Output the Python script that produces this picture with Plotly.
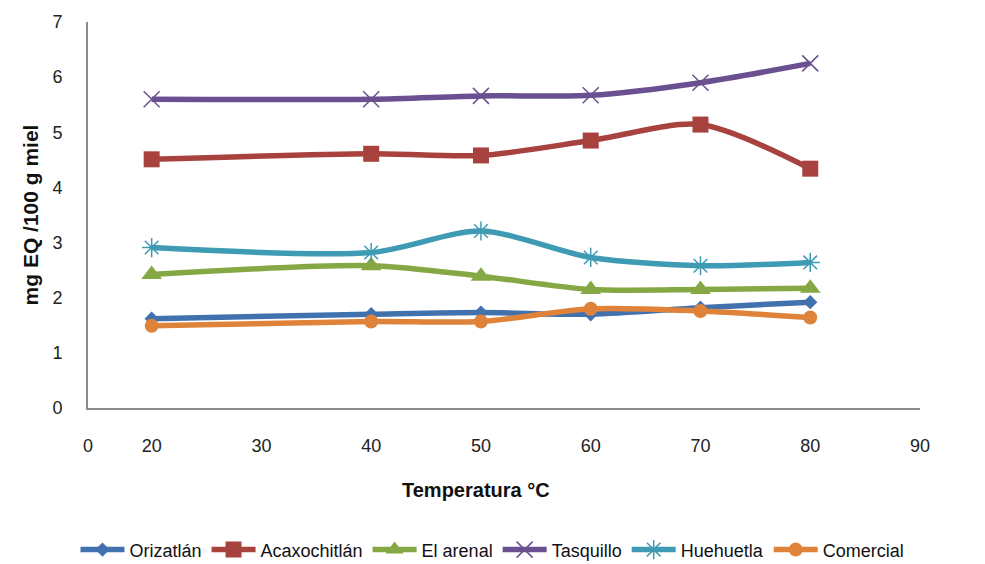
import plotly.graph_objects as go

temps = [20, 40, 50, 60, 70, 80]
orizatlan = [1.62, 1.70, 1.73, 1.70, 1.82, 1.92]
acaxochitlan = [4.51, 4.61, 4.58, 4.85, 5.14, 4.34]
el_arenal = [2.42, 2.58, 2.39, 2.15, 2.15, 2.17]
tasquillo = [5.60, 5.60, 5.66, 5.67, 5.90, 6.25]
huehuetla = [2.91, 2.82, 3.21, 2.73, 2.58, 2.64]
comercial = [1.49, 1.57, 1.57, 1.80, 1.76, 1.64]

x_ticks = [14.2, 20, 30, 40, 50, 60, 70, 80, 90]
x_ticktext = ["0", "20", "30", "40", "50", "60", "70", "80", "90"]
y_ticks = [0, 1, 2, 3, 4, 5, 6, 7]

series = [
    ("Orizatlán", orizatlan, "#4272AE", "diamond", 11, 0),
    ("Acaxochitlán", acaxochitlan, "#A8423F", "square", 16, 0),
    ("El arenal", el_arenal, "#86A844", "triangle-up", 18, 0),
    ("Tasquillo", tasquillo, "#6A5090", "x-thin-open", 16, 1.5),
    ("Huehuetla", huehuetla, "#3E9BB3", "asterisk-open", 16, 1.5),
    ("Comercial", comercial, "#E0833A", "circle", 14, 0),
]

fig = go.Figure()
for name, vals, col, sym, sz, lw in series:
    fig.add_trace(go.Scatter(
        x=temps, y=vals, name=name, mode="lines+markers",
        line=dict(color=col, width=5.5, shape="spline", smoothing=0.8),
        marker=dict(symbol=sym, size=sz, color=col, line=dict(color=col, width=lw)),
    ))

fig.update_layout(
    width=985, height=564,
    margin=dict(l=88, r=65, t=22, b=156, autoexpand=False),
    paper_bgcolor="white", plot_bgcolor="white",
    font=dict(family="Liberation Sans, Arial", size=18, color="#222"),
    showlegend=True,
    legend=dict(orientation="h", xref="container", yref="container",
                x=0.5, xanchor="center", y=0.025, yanchor="middle",
                font=dict(size=18, color="#111"), itemwidth=44, tracegroupgap=0),
    xaxis=dict(range=[14.2, 90], tickvals=x_ticks, ticktext=x_ticktext,
               showgrid=False, zeroline=False, showline=True, linecolor="#8c8c8c", linewidth=2,
               ticks="", ticklabelstandoff=20, tickfont=dict(size=18)),
    yaxis=dict(range=[0, 7], tickvals=y_ticks, showgrid=False, zeroline=False,
               showline=True, linecolor="#8c8c8c", linewidth=2,
               ticks="", ticklabelstandoff=20, tickfont=dict(size=18),
               title=dict(text="<b>mg EQ /100 g miel</b>", font=dict(size=21, color="#111"), standoff=8)),
    annotations=[dict(text="<b>Temperatura °C</b>", xref="paper", yref="paper",
                      x=0.466, y=-0.212, xanchor="center", yanchor="middle", showarrow=False,
                      font=dict(size=20, color="#111"))],
)

fig.write_html("out.html")
